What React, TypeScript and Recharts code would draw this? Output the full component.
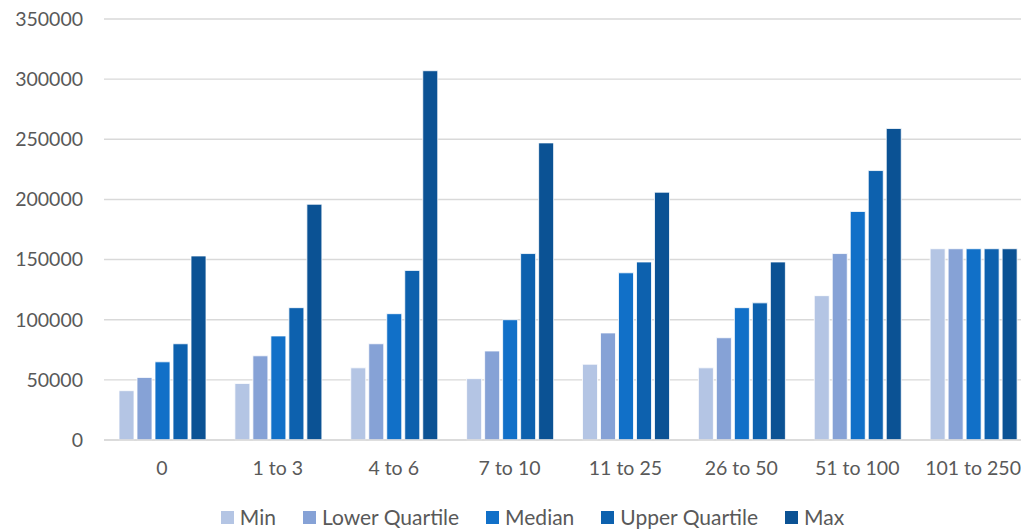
import { BarChart, Bar, XAxis, YAxis, CartesianGrid } from "recharts";

// categories on the x axis
const categories = ["0", "1 to 3", "4 to 6", "7 to 10", "11 to 25", "26 to 50", "51 to 100", "101 to 250"];

// series values
const minValues = [41000, 47000, 60000, 51000, 63000, 60000, 120000, 159000];
const lowerQuartile = [52000, 70000, 80000, 74000, 89000, 85000, 155000, 159000];
const medianValues = [65000, 86500, 105000, 100000, 139000, 110000, 190000, 159000];
const upperQuartile = [80000, 110000, 141000, 155000, 148000, 114000, 224000, 159000];
const maxValues = [153000, 196000, 307000, 247000, 206000, 148000, 259000, 159000];

const yTicks = [0, 50000, 100000, 150000, 200000, 250000, 300000, 350000];

const series = [
  { key: "min", name: "Min", values: minValues, color: "#B4C5E4" },
  { key: "lq", name: "Lower Quartile", values: lowerQuartile, color: "#86A2D6" },
  { key: "median", name: "Median", values: medianValues, color: "#1170C8" },
  { key: "uq", name: "Upper Quartile", values: upperQuartile, color: "#0D61AE" },
  { key: "max", name: "Max", values: maxValues, color: "#0B5294" },
];

const data = categories.map((cat, i) => {
  const row: any = { category: cat };
  series.forEach((s) => {
    row[s.key] = s.values[i];
  });
  return row;
});

const FONT = "Lato, 'Open Sans', sans-serif";
const TEXT = "#595959";
const GRID = "#D9D9D9";

const App = () => {
  return (
    <div
      style={{
        position: "absolute",
        left: 0,
        top: 0,
        width: 1021,
        height: 530,
        overflow: "hidden",
        background: "#fff",
        fontFamily: FONT,
      }}
    >
      <BarChart
        width={1050}
        height={530}
        data={data}
        margin={{ top: 19, right: 19, bottom: 60, left: 0 }}
        barCategoryGap={15}
        barGap={3}
      >
        <CartesianGrid vertical={false} stroke={GRID} strokeWidth={1.4} />
        <XAxis
          dataKey="category"
          height={30}
          tickLine={false}
          tickSize={0}
          tickMargin={21}
          axisLine={{ stroke: GRID, strokeWidth: 1.6 }}
          tick={{ fill: TEXT, fontSize: 19.5, fontFamily: FONT }}
          interval={0}
        />
        <YAxis
          width={104}
          domain={[0, 350000]}
          ticks={yTicks}
          tickLine={false}
          axisLine={false}
          tickSize={0}
          tickMargin={21}
          tick={{ fill: TEXT, fontSize: 19.5, fontFamily: FONT }}
        />
        {series.map((s) => (
          <Bar
            key={s.key}
            dataKey={s.key}
            name={s.name}
            fill={s.color}
            stroke="#ffffff"
            strokeWidth={0.8}
            isAnimationActive={false}
          />
        ))}
      </BarChart>
      <div
        style={{
          position: "absolute",
          left: 0,
          width: 1065,
          top: 506,
          display: "flex",
          justifyContent: "center",
          gap: 27,
          fontSize: 21,
          color: TEXT,
          lineHeight: "22px",
        }}
      >
        {series.map((s) => (
          <div key={s.key} style={{ display: "flex", alignItems: "center", gap: 6 }}>
            <span style={{ width: 13, height: 13, background: s.color, display: "inline-block" }} />
            <span>{s.name}</span>
          </div>
        ))}
      </div>
    </div>
  );
};

export default App;
